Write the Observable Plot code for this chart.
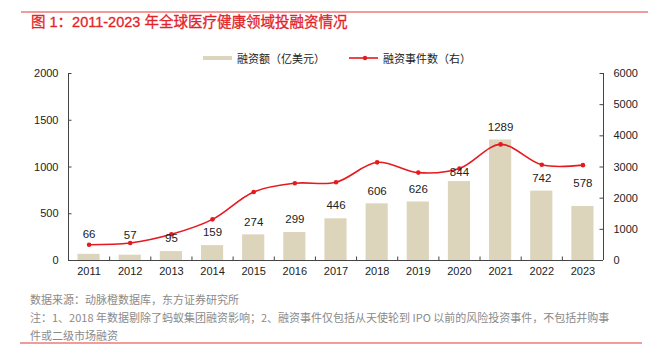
<!DOCTYPE html>
<html>
<head>
<meta charset="utf-8">
<script src="https://cdn.jsdelivr.net/npm/d3@7"></script>
<script src="https://cdn.jsdelivr.net/npm/@observablehq/plot@0.6"></script>
<style>
  html, body { margin: 0; padding: 0; background: #fff; }
  #wrap { position: relative; width: 648px; height: 354px; overflow: hidden;
    font-family: "Liberation Sans", "Noto Sans CJK SC", sans-serif; }
  #chart { position: absolute; left: 0; top: 0; }
  .rule { position: absolute; height: 1.5px; background: #f19b9b; }
  #title { position: absolute; left: 31px; top: 12px; font-size: 14.5px; font-weight: normal;
    color: #e3232a; font-family: "Liberation Sans", "Noto Sans CJK SC", sans-serif; white-space: nowrap; line-height: 20px;
    -webkit-text-stroke: 0.3px #e3232a; }
  #legend { position: absolute; top: 50px; left: 0; height: 16px; width: 648px; font-size: 11px; color: #222;
    font-family: "Noto Sans CJK SC", sans-serif; }
  .lg { position: absolute; top: 0; line-height: 16px; white-space: nowrap; }
  #footer { position: absolute; left: 30px; top: 290px; font-size: 11px; color: #8a8a8a;
    font-family: "Noto Sans CJK SC", sans-serif; line-height: 18px; white-space: nowrap; }
</style>
</head>
<body>
<div id="wrap">
  <div id="chart"></div>
  <div class="rule" style="left:21px; top:11px; width:627px;"></div>
  <div id="title">图 1：2011-2023 年全球医疗健康领域投融资情况</div>
  <div id="legend"></div>
  <div id="footer"></div>
  <div class="rule" style="left:20px; top:342px; width:622px;"></div>
</div>
<script>
// ---- data ----
const years = [2011, 2012, 2013, 2014, 2015, 2016, 2017, 2018, 2019, 2020, 2021, 2022, 2023];
const amounts = [66, 57, 95, 159, 274, 299, 446, 606, 626, 844, 1289, 742, 578]; // 融资额（亿美元）
const events = [505, 560, 840, 1320, 2200, 2480, 2510, 3150, 2820, 2950, 3725, 3070, 3060]; // 融资事件数（右）
const leftTicks = [0, 500, 1000, 1500, 2000];
const rightTicks = [0, 1000, 2000, 3000, 4000, 5000, 6000];
const seriesNames = ["融资额（亿美元）", "融资事件数（右）"];
const sourceText = "数据来源：动脉橙数据库，东方证券研究所";
const noteLines = ["注：1、2018 年数据剔除了蚂蚁集团融资影响；2、融资事件仅包括从天使轮到 IPO 以前的风险投资事件，不包括并购事",
                   "件或二级市场融资"];

// ---- styles ----
const barColor = "#ddd4bc";
const lineColor = "#e5191e";
const axisColor = "#444";
const textColor = "#222";

const leftMax = leftTicks[leftTicks.length - 1];
const rightMax = rightTicks[rightTicks.length - 1];
const ratio = leftMax / rightMax;

const rows = years.map((y, i) => ({year: y, amount: amounts[i], events: events[i], ev: events[i] * ratio}));
const x0 = years[0] - 0.5, x1 = years[years.length - 1] + 0.5;
const bounds = d3.range(x0 + 1, x1, 1);

// label offsets (vertical nudges as in the original)
const labelDy = {2011: -20, 2012: -20, 2020: -9, 2023: -23};
const dyGroups = d3.groups(rows, d => labelDy[d.year] ?? -13);

const plot = Plot.plot({
  width: 648,
  height: 290,
  marginTop: 73,
  marginBottom: 30,
  marginLeft: 68,
  marginRight: 45,
  style: {background: "transparent", fontFamily: "Liberation Sans, Arial, sans-serif", fontSize: "11px", color: textColor},
  x: {domain: [x0, x1], label: null},
  y: {domain: [0, leftMax], label: null},
  marks: [
    Plot.rectY(rows, {x1: d => d.year - 0.5, x2: d => d.year + 0.5, y: "amount", fill: barColor, insetLeft: 9.5, insetRight: 9.5}),
    // axes lines
    Plot.ruleY([0], {stroke: axisColor, strokeWidth: 1}),
    Plot.ruleX([x0], {stroke: axisColor, strokeWidth: 1}),
    Plot.ruleX([x1], {stroke: axisColor, strokeWidth: 1}),
    // inward ticks
    Plot.ruleX(bounds, {y1: 0, y2: 0, insetBottom: 3.5, stroke: axisColor}),
    Plot.ruleY(leftTicks, {x1: x0, x2: x0, insetRight: -3.5, stroke: axisColor}),
    Plot.ruleY(rightTicks.map(v => v * ratio), {x1: x1, x2: x1, insetLeft: -3.5, stroke: axisColor}),
    // axis labels
    Plot.axisX(years, {tickSize: 0, tickPadding: 7, tickFormat: d => String(d), fontSize: 11, fill: textColor, label: null}),
    Plot.axisY(leftTicks, {anchor: "left", tickSize: 0, tickPadding: 10, fontSize: 11, fill: textColor, label: null,
      tickFormat: d => String(d)}),
    Plot.axisY(rightTicks.map(v => v * ratio), {anchor: "right", tickSize: 0, tickPadding: 10, fontSize: 11, fill: textColor,
      tickFormat: d => String(Math.round(d / ratio)), label: null}),
    // line series
    Plot.line(rows, {x: "year", y: "ev", curve: "catmull-rom", stroke: lineColor, strokeWidth: 1.6}),
    Plot.dot(rows, {x: "year", y: "ev", r: 2.3, fill: lineColor, stroke: "none"}),
    // bar value labels
    ...dyGroups.map(([dy, g]) => Plot.text(g, {x: "year", y: "amount", text: d => String(d.amount), dy, fontSize: 11.5, fill: textColor}))
  ]
});
document.getElementById("chart").appendChild(plot);

// legend
const lg = document.getElementById("legend");
lg.innerHTML = `
  <div style="position:absolute; left:203px; top:6px; width:29px; height:4px; background:${barColor}"></div>
  <div class="lg" style="left:237px">${seriesNames[0]}</div>
  <svg style="position:absolute; left:349px; top:0" width="30" height="16">
    <line x1="0" y1="8" x2="29" y2="8" stroke="${lineColor}" stroke-width="1.6"/>
    <circle cx="16" cy="8" r="2.2" fill="${lineColor}"/>
  </svg>
  <div class="lg" style="left:383px">${seriesNames[1]}</div>`;

// footer
document.getElementById("footer").innerHTML = [sourceText, ...noteLines].map(t => `<div>${t}</div>`).join("");
</script>
</body>
</html>
